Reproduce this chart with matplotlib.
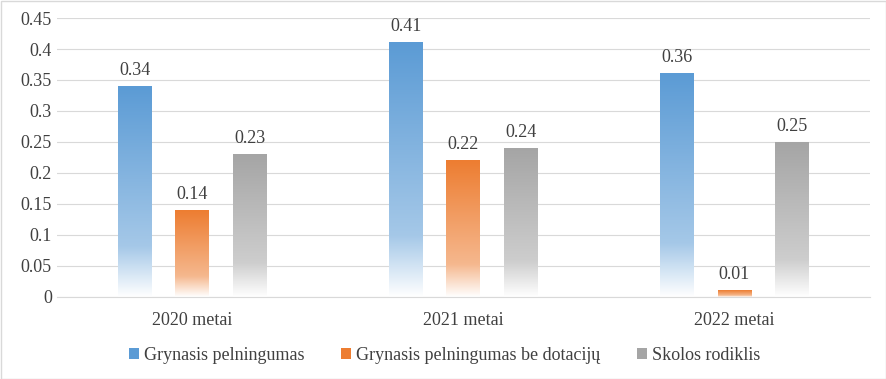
import numpy as np
import matplotlib.pyplot as plt
from matplotlib.colors import LinearSegmentedColormap, to_rgb
from matplotlib.patches import Rectangle

categories = ["2020 metai", "2021 metai", "2022 metai"]
series_names = ["Grynasis pelningumas", "Grynasis pelningumas be dotacijų", "Skolos rodiklis"]
grynasis = [0.34, 0.41, 0.36]
be_dotaciju = [0.14, 0.22, 0.01]
skolos = [0.23, 0.24, 0.25]

colors = ["#5B9BD5", "#ED7D31", "#A5A5A5"]

plt.rcParams['font.family'] = ['Liberation Serif', 'DejaVu Serif']

fig = plt.figure(figsize=(8.86, 3.79), dpi=100)
ax = fig.add_axes([0.064, 0.2164, 0.918, 0.7361])


def grad_cmap(c):
    r, g, b = to_rgb(c)
    light = tuple(v + (1 - v) * 0.45 for v in (r, g, b))
    # bottom -> top
    return LinearSegmentedColormap.from_list(
        "g", [(0.0, (1, 1, 1)), (0.24, light), (1.0, (r, g, b))])


x = np.arange(len(categories))
width = 0.125
offsets = [-0.212, 0.0, 0.212]
data = [grynasis, be_dotaciju, skolos]

grad = np.linspace(0, 1, 256).reshape(-1, 1)
for vals, off, col in zip(data, offsets, colors):
    cm = grad_cmap(col)
    for xi, v in zip(x, vals):
        x0 = xi + off - width / 2
        ax.imshow(grad, cmap=cm, origin="lower", aspect="auto",
                  extent=[x0, x0 + width, 0, v], zorder=2, interpolation="bilinear")
        ax.text(xi + off, v + 0.012, f"{v:g}", ha="center", va="bottom",
                fontsize=13, color="#404040")

ax.set_xlim(-0.5, 2.5)
ax.set_ylim(0, 0.45)
ax.set_yticks(np.arange(0, 0.451, 0.05))
ax.set_yticklabels([f"{t:g}" for t in np.arange(0, 0.451, 0.05).round(2)])
ax.set_xticks(x)
ax.set_xticklabels(categories)
ax.tick_params(axis="both", length=0, labelsize=13, colors="#404040")
ax.tick_params(axis="x", pad=11)
ax.grid(axis="y", color="#D9D9D9", linewidth=0.8, zorder=0)
for s in ["top", "right", "left"]:
    ax.spines[s].set_visible(False)
ax.spines["bottom"].set_color("#D9D9D9")

handles = [Rectangle((0, 0), 1, 1, facecolor=c) for c in colors]
fig.legend(handles, series_names, loc="center", bbox_to_anchor=(0.502, 0.062), ncol=3,
           frameon=False, fontsize=13, handlelength=0.55, handleheight=0.55,
           handletextpad=0.3, columnspacing=2.0, labelcolor="#404040")

fig.patches.append(Rectangle((0.5 / 886, 0.5 / 379), 1 - 1 / 886, 1 - 1 / 379,
                             transform=fig.transFigure, fill=False,
                             edgecolor="#D9D9D9", linewidth=1))

fig.savefig("out.png", dpi=100)
